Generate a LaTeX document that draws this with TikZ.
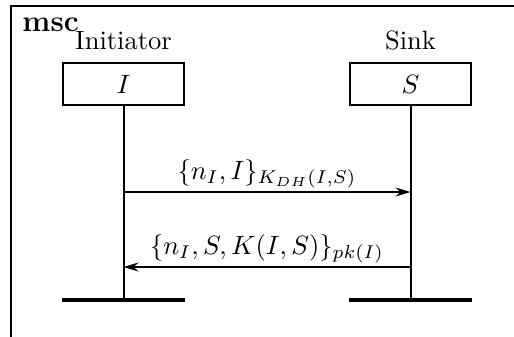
\RequirePackage{fix-cm}
\documentclass[tikz,border=0pt]{standalone}
\usetikzlibrary{positioning,arrows.meta}
\begin{document}
\fontsize{10.6}{13}\selectfont
\begin{tikzpicture}[
    x=0.4pt, y=-0.4pt,
    node distance=4.6pt,
    >={Stealth[length=6pt, width=3.6pt, inset=2pt]},
    instbox/.style={rectangle, draw, line width=0.8pt, minimum width=48.4pt, minimum height=16.8pt, inner sep=0pt},
    instname/.style={inner sep=0pt},
    lifeline/.style={line width=0.8pt},
    endbar/.style={line width=1.9pt},
    msg/.style={->, line width=0.8pt}
]
\clip (0,0) rectangle (514,336);
% frame
\draw[line width=0.8pt] (11,6) rectangle (560,380);
\node[anchor=base west, font=\fontsize{12}{14}\selectfont\bfseries, inner sep=0pt] (msc) at (22,31) {msc};

% instances
\node[instbox] (I) at (123.5,84) {$I$};
\node[instbox] (S) at (410.5,84) {$S$};
\node[instname, above=of I] (Iname) {Initiator};
\node[instname, above=of S] (Sname) {Sink};

\coordinate (Iend) at (123.5,300);
\coordinate (Send) at (410.5,300);
\draw[lifeline] (I) -- (Iend);
\draw[lifeline] (S) -- (Send);
\draw[endbar] ([xshift=-24.6pt]Iend) -- ([xshift=24.6pt]Iend);
\draw[endbar] ([xshift=-24.6pt]Send) -- ([xshift=24.6pt]Send);

% messages
\coordinate (I1) at (123.5,192);
\coordinate (S1) at (410.5,192);
\coordinate (I2) at (123.5,267);
\coordinate (S2) at (410.5,267);
\draw[msg] (I1) -- node[above, inner sep=1pt] {$\{n_I,I\}_{K_{DH}(I,S)}$} (S1);
\draw[msg] (S2) -- node[above, inner sep=1pt] {$\{n_I,S,K(I,S)\}_{pk(I)}$} (I2);
\end{tikzpicture}
\end{document}
